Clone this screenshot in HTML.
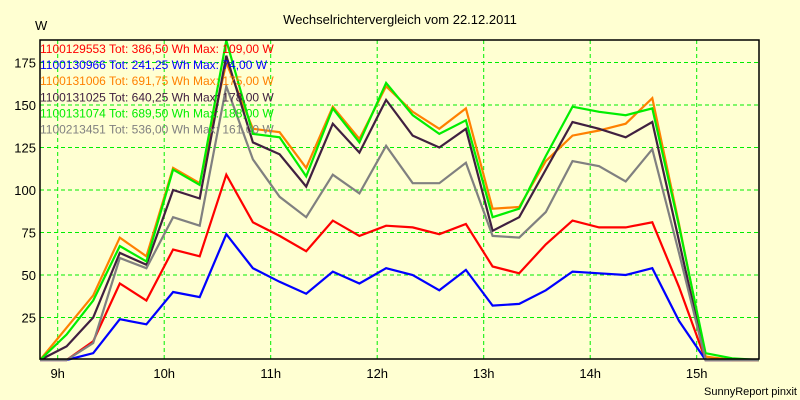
<!DOCTYPE html>
<html><head><meta charset="utf-8"><style>
html,body{margin:0;padding:0;background:#FFFFD2;}
svg{display:block;font-family:"Liberation Sans",sans-serif;}
</style></head><body>
<svg id="chart" width="800" height="400" xmlns="http://www.w3.org/2000/svg">
<rect x="0" y="0" width="800" height="400" fill="#FFFFD2"/>
<text x="400" y="24" text-anchor="middle" font-size="13" fill="#000">Wechselrichtervergleich vom 22.12.2011</text>
<text x="35" y="30" font-size="13" fill="#000">W</text>
<text x="797" y="395" text-anchor="end" font-size="11" fill="#000">SunnyReport pinxit</text>
<g id="grid"></g>
<g id="series"></g>
<rect x="40" y="40" width="719" height="319" fill="none" stroke="#000" stroke-width="1.5"/>
<g id="axes"></g>
<g id="legend"></g>
</svg>
<script>
const yTicks = [25, 50, 75, 100, 125, 150, 175];
const xHours = [9, 10, 11, 12, 13, 14, 15];
const startMinutes = 8 * 60 + 50;
const stepMinutes = 15;
const seriesNames = ["1100129553", "1100130966", "1100131006", "1100131025", "1100131074", "1100213451"];
const seriesTot = ["386,50", "241,25", "691,75", "640,25", "689,50", "536,00"];
const seriesMax = ["109,00", "74,00", "175,00", "178,00", "188,00", "161,00"];
const seriesColors = ["#ff0000", "#0000ff", "#ff8000", "#402040", "#00ee00", "#808080"];
const red = [0,0,11,45,35,65,61,109,81,73,64,82,73,79,78,74,80,55,51,68,82,78,78,81,43,0,0,0];
const blue = [0,0,4,24,21,40,37,74,54,46,39,52,45,54,50,41,53,32,33,41,52,51,50,54,23,0,0,0];
const orange = [0,19,38,72,61,113,104,175,136,134,113,149,130,161,146,136,148,89,90,117,132,135,139,154,80,2,0,0];
const dark = [0,8,25,63,56,100,95,179,128,121,102,139,122,153,132,125,136,76,84,112,140,136,131,140,70,0,0,0];
const green = [0,15,35,67,58,112,103,188,133,131,108,148,128,163,144,133,141,84,89,120,149,146,144,148,79,4,1,0];
const gray = [0,0,10,60,54,84,79,161,118,96,84,109,98,126,104,104,116,73,72,87,117,114,105,124,63,0,0,0];
const allSeries = [red, blue, orange, dark, green, gray];

const NS = "http://www.w3.org/2000/svg";
function yScale(v){ return 360 - 1.7 * v; }
function xScaleMinutes(m){ return 57.7 + (m - 540) * 106.5 / 60; }
function mk(tag, attrs){ const e = document.createElementNS(NS, tag); for (const k in attrs) e.setAttribute(k, attrs[k]); return e; }

const grid = document.getElementById('grid');
const axes = document.getElementById('axes');
yTicks.forEach(t => {
  const y = yScale(t);
  const l = mk('line', {x1:40, x2:759, y1:y, y2:y, stroke:'#00ee00', 'stroke-width':1, 'stroke-dasharray':'4,3'});
  
  
  grid.appendChild(l);
  const tx = mk('text', {x:36, y:y+5, 'text-anchor':'end', 'font-size':13, fill:'#000'});
  tx.textContent = t;
  
  
  axes.appendChild(tx);
});
xHours.forEach(h => {
  const x = xScaleMinutes(h * 60);
  const l = mk('line', {x1:x, x2:x, y1:40, y2:359, stroke:'#00ee00', 'stroke-width':1, 'stroke-dasharray':'4,3'});
  
  
  grid.appendChild(l);
  const tx = mk('text', {x:x, y:378, 'text-anchor':'middle', 'font-size':13, fill:'#000'});
  tx.textContent = h + 'h';
  
  
  axes.appendChild(tx);
});

const sg = document.getElementById('series');
allSeries.forEach((vals, si) => {
  const pts = vals.map((v, i) => xScaleMinutes(startMinutes + i * stepMinutes).toFixed(1) + ',' + yScale(v).toFixed(1)).join(' ');
  const p = mk('polyline', {points:pts, fill:'none', stroke:seriesColors[si], 'stroke-width':2.2, 'stroke-linejoin':'miter'});
  
  
  sg.appendChild(p);
});

const lg = document.getElementById('legend');
seriesNames.forEach((n, i) => {
  const tx = mk('text', {x:40, y:53 + i * 16.1, 'font-size':12, fill:seriesColors[i] === '#00ee00' ? '#00ee00' : seriesColors[i]});
  tx.textContent = n + ' Tot: ' + seriesTot[i] + ' Wh Max: ' + seriesMax[i] + ' W';
  
  
  lg.appendChild(tx);
});
</script>
</body></html>
